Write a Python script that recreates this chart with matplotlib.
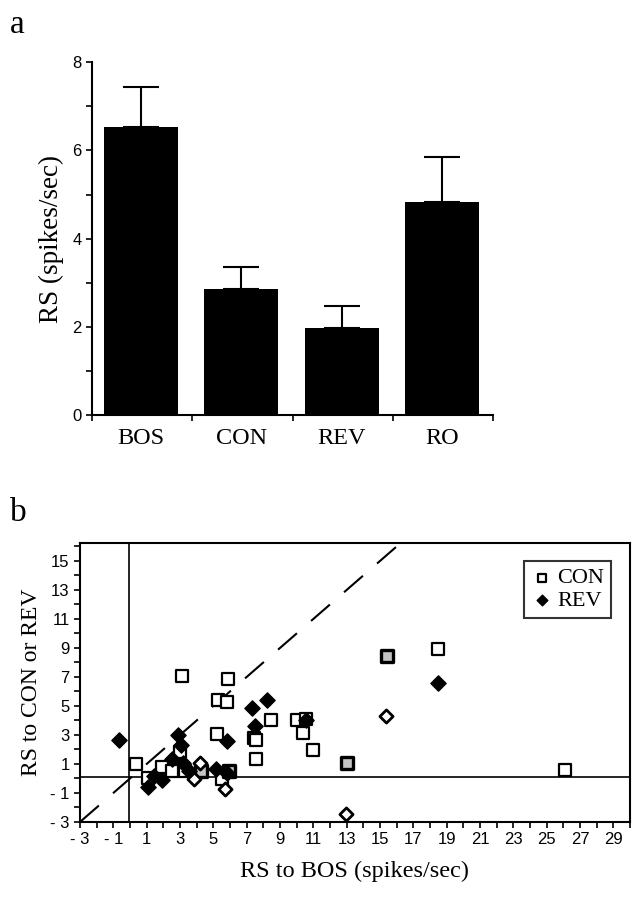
import numpy as np
import matplotlib.pyplot as plt
from matplotlib.ticker import MultipleLocator, FixedLocator

# panel a: mean response strength per stimulus
stimuli = ['BOS', 'CON', 'REV', 'RO']
rs_mean = [6.54, 2.87, 1.98, 4.84]
rs_sem = [0.89, 0.50, 0.49, 1.02]

# panel b: per-cell RS to BOS vs RS to CON / REV
con_bos = [0.33, 1.08, 1.94, 2.55, 2.99, 3.14, 3.28, 5.2, 5.3, 5.8, 5.87, 5.5,
           7.46, 7.56, 7.56, 8.44, 10.03, 10.57, 10.4, 10.98, 18.5, 26.1]
con_rs = [1.03, 0.05, 0.76, 0.54, 1.84, 7.1, 0.54, 3.1, 5.4, 5.25, 6.84, -0.02,
          2.78, 2.67, 1.37, 4.01, 4.01, 4.13, 3.12, 1.93, 8.9, 0.58]
# CON points of cells whose REV response is drawn open (shaded squares)
con2_bos = [4.26, 5.92, 13.0, 15.4]
con2_rs = [0.54, 0.54, 1.1, 8.43]

rev_bos = [-0.68, 1.08, 1.47, 1.91, 2.5, 2.87, 3.09, 3.19, 3.55, 5.14, 5.8,
           5.85, 7.32, 7.51, 8.2, 10.57, 18.5]
rev_rs = [2.67, -0.58, 0.2, -0.13, 1.32, 3.0, 2.33, 1.1, 0.54, 0.65, 0.4,
          2.56, 4.87, 3.63, 5.43, 4.0, 6.6]
rev2_bos = [3.87, 4.19, 5.73, 12.97, 15.36]
rev2_rs = [-0.02, 1.1, -0.74, -2.44, 4.3]

serif = 'Liberation Serif'
sans = 'Liberation Sans'
plt.rcParams['font.family'] = sans


def dash_fmt(v):
    return ('- %d' % -v) if v < 0 else str(v)


fig = plt.figure(figsize=(6.38, 8.99), dpi=100)

# ---- panel a ----
ax1 = fig.add_axes([0.144, 0.538, 0.629, 0.393])
pos = np.arange(len(stimuli)) + 0.49
ax1.bar(pos, rs_mean, width=0.74, color='black', zorder=2)
ax1.errorbar(pos, rs_mean, yerr=[np.zeros(len(rs_sem)), rs_sem], fmt='none',
             ecolor='black', elinewidth=1.5, capsize=13, capthick=1.5, zorder=1)
ax1.set_xlim(0, 4)
ax1.set_ylim(0, 8)
ax1.spines['top'].set_visible(False)
ax1.spines['right'].set_visible(False)
ax1.spines['left'].set_linewidth(1.5)
ax1.spines['bottom'].set_linewidth(1.5)
ax1.xaxis.set_major_locator(FixedLocator([0, 1, 2, 3, 4]))
ax1.set_xticklabels([])
ax1.xaxis.set_minor_locator(FixedLocator(pos))
ax1.set_xticklabels(stimuli, minor=True, fontfamily=serif, fontsize=17.5)
ax1.tick_params(axis='x', which='minor', length=0, pad=9)
ax1.tick_params(axis='x', which='major', direction='out', length=4, width=1.2)
ax1.yaxis.set_major_locator(MultipleLocator(2))
ax1.yaxis.set_minor_locator(MultipleLocator(1))
ax1.tick_params(axis='y', which='both', direction='out', length=4, width=1.2,
                labelsize=12)
ax1.set_ylabel('RS (spikes/sec)', fontfamily=serif, fontsize=19.5, labelpad=6)

# ---- panel b ----
ax2 = fig.add_axes([0.1254, 0.0857, 0.862, 0.3103])
ax2.set_xlim(-3, 30)
ax2.set_ylim(-3, 16.24)
ax2.plot([-3, 16.3], [-3, 16.3], color='black', lw=1.5,
         linestyle=(0, (12, 9)), zorder=1)
ax2.axhline(0.1, color='black', lw=1.2, zorder=1)
ax2.axvline(-0.05, color='black', lw=1.2, zorder=1)

ax2.scatter(con_bos, con_rs, marker='s', s=70, facecolor='white',
            edgecolor='black', linewidth=1.6, zorder=3, label='CON')
ax2.scatter(con2_bos, con2_rs, marker='s', s=70, facecolor='#c4c4c4',
            edgecolor='black', linewidth=2.4, zorder=3)
ax2.scatter(rev_bos, rev_rs, marker='D', s=60, facecolor='black',
            edgecolor='black', linewidth=1, zorder=4, label='REV')
ax2.scatter(rev2_bos, rev2_rs, marker='D', s=45, facecolor='white',
            edgecolor='black', linewidth=2.0, zorder=4)

for sp in ax2.spines.values():
    sp.set_linewidth(1.5)
xt = np.arange(-3, 30, 2)
ax2.set_xticks(xt)
ax2.set_xticklabels([dash_fmt(v) for v in xt])
ax2.xaxis.set_minor_locator(MultipleLocator(1))
yt = np.arange(-3, 16, 2)
ax2.set_yticks(yt)
ax2.set_yticklabels([dash_fmt(v) for v in yt])
ax2.yaxis.set_minor_locator(MultipleLocator(1))
ax2.tick_params(axis='both', which='both', direction='out', length=4,
                width=1.2, labelsize=12)
ax2.set_xlabel('RS to BOS (spikes/sec)', fontfamily=serif, fontsize=17.5,
               labelpad=10)
ax2.set_ylabel('RS to CON or REV', fontfamily=serif, fontsize=17, labelpad=6)

leg = ax2.legend(loc='upper right', bbox_to_anchor=(0.965, 0.935),
                 prop={'family': serif, 'size': 16}, frameon=True,
                 fancybox=False, edgecolor='black', handletextpad=0.2,
                 borderpad=0.3, labelspacing=0.1, handlelength=1.0,
                 markerscale=0.7, borderaxespad=0)
leg.get_frame().set_linewidth(1.5)

fig.text(0.015, 0.972, 'a', fontfamily=serif, fontsize=24, va='center')
fig.text(0.015, 0.43, 'b', fontfamily=serif, fontsize=24, va='center')

fig.savefig('out.png', dpi=100)
